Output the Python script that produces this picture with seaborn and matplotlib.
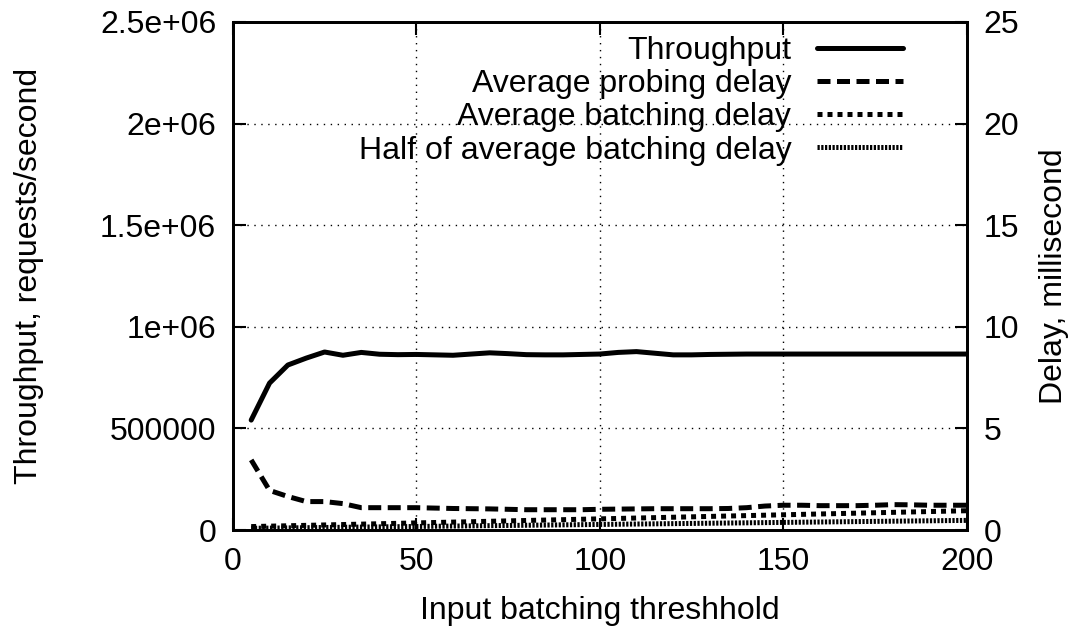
import matplotlib
matplotlib.use("Agg")
import matplotlib.pyplot as plt
import seaborn as sns
import pandas as pd

threshold = [5, 10, 15, 20, 25, 30, 35, 40, 45, 50, 55, 60, 65, 70, 75, 80, 85, 90, 95, 100,
             105, 110, 115, 120, 125, 130, 135, 140, 145, 150, 155, 160, 165, 170, 175, 180, 185, 190, 195, 200]
throughput = [541000, 723000, 812000, 846000, 876000, 860000, 874000, 865000, 863000, 864000,
              862000, 860000, 866000, 872000, 868000, 863000, 862000, 862000, 864000, 866000,
              874000, 878000, 870000, 862000, 862000, 864000, 865000, 866000, 866000, 866000,
              866000, 866000, 866000, 866000, 866000, 866000, 866000, 866000, 866000, 866000]
probing_delay = [3.45, 1.95, 1.65, 1.40, 1.40, 1.30, 1.10, 1.10, 1.10, 1.10,
                 1.08, 1.06, 1.05, 1.04, 1.02, 1.00, 1.00, 1.00, 1.00, 1.02,
                 1.03, 1.04, 1.05, 1.05, 1.05, 1.05, 1.06, 1.10, 1.18, 1.22,
                 1.22, 1.20, 1.20, 1.20, 1.22, 1.25, 1.24, 1.22, 1.22, 1.22]
batching_delay = [0.17, 0.19, 0.21, 0.23, 0.25, 0.27, 0.29, 0.31, 0.33, 0.35,
                  0.37, 0.39, 0.41, 0.43, 0.45, 0.47, 0.49, 0.51, 0.53, 0.55,
                  0.57, 0.59, 0.61, 0.63, 0.65, 0.67, 0.69, 0.71, 0.73, 0.75,
                  0.77, 0.79, 0.81, 0.83, 0.85, 0.87, 0.89, 0.91, 0.93, 0.95]
half_batching_delay = [0.085, 0.095, 0.105, 0.115, 0.125, 0.135, 0.145, 0.155, 0.165, 0.175,
                       0.185, 0.195, 0.205, 0.215, 0.225, 0.235, 0.245, 0.255, 0.265, 0.275,
                       0.285, 0.295, 0.305, 0.315, 0.325, 0.335, 0.345, 0.355, 0.365, 0.375,
                       0.385, 0.395, 0.405, 0.415, 0.425, 0.435, 0.445, 0.455, 0.465, 0.475]

x_ticks = [0, 50, 100, 150, 200]
left_ticks = [0, 500000, 1000000, 1500000, 2000000, 2500000]
left_labels = ["0", "500000", "1e+06", "1.5e+06", "2e+06", "2.5e+06"]
right_ticks = [0, 5, 10, 15, 20, 25]

sns.set_theme(style="white")
plt.rcParams['font.family'] = ['Liberation Sans', 'DejaVu Sans']
plt.rcParams['text.color'] = 'black'
plt.rcParams['axes.labelcolor'] = 'black'

FS = 23

df = pd.DataFrame({"x": threshold, "tp": throughput, "probe": probing_delay,
                   "batch": batching_delay, "half": half_batching_delay})

fig = plt.figure(figsize=(10.73, 6.28), dpi=100)
ax = fig.add_axes([0.217, 0.156, 0.684, 0.809])
ax2 = ax.twinx()

LW = 3.6
sns.lineplot(data=df, x="x", y="tp", ax=ax, color="black", lw=LW, label="Throughput", legend=False)
sns.lineplot(data=df, x="x", y="probe", ax=ax2, color="black", lw=LW, label="Average probing delay", legend=False)
sns.lineplot(data=df, x="x", y="batch", ax=ax2, color="black", lw=LW, label="Average batching delay", legend=False)
sns.lineplot(data=df, x="x", y="half", ax=ax2, color="black", lw=LW, label="Half of average batching delay", legend=False)
ax2.lines[0].set_dashes([2.6, 1.3])
ax2.lines[1].set_dashes([1.0, 1.0])
ax2.lines[2].set_dashes([0.45, 0.3])

ax.set_xlim(0, 200)
ax.set_ylim(0, 2500000)
ax2.set_ylim(0, 25)
ax.set_xticks(x_ticks)
ax.set_xticklabels([str(t) for t in x_ticks])
ax.set_yticks(left_ticks)
ax.set_yticklabels(left_labels)
ax2.set_yticks(right_ticks)
ax2.set_yticklabels([str(t) for t in right_ticks])

ax.grid(True, color="black", linestyle=(0, (1, 4)), linewidth=1.0)
for a in (ax, ax2):
    for s in a.spines.values():
        s.set_color("black")
        s.set_linewidth(2.0)

ax.tick_params(axis="both", direction="in", length=9, width=1.5, labelsize=FS, pad=12,
               top=True, left=True, right=False, bottom=True, colors="black")
ax2.tick_params(axis="y", direction="in", length=9, width=1.5, labelsize=FS, pad=12, colors="black")

ax.set_xlabel("Input batching threshhold", fontsize=FS, labelpad=14, color="black")
ax.set_ylabel("Throughput, requests/second", fontsize=FS, labelpad=40, color="black")
ax2.set_ylabel("Delay, millisecond", fontsize=FS, labelpad=14, color="black")

handles = ax.get_lines()[:1] + ax2.get_lines()[:3]
labels = ["Throughput", "Average probing delay", "Average batching delay", "Half of average batching delay"]
leg = ax2.legend(handles, labels, loc="upper right", bbox_to_anchor=(0.922, 0.985), frameon=False,
                 markerfirst=False, fontsize=FS, handlelength=2.7, labelspacing=0.1, handletextpad=0.8,
                 borderaxespad=0.0, borderpad=0.2)
for t in leg.get_texts():
    t.set_color("black")

fig.savefig("out.png", dpi=100)
